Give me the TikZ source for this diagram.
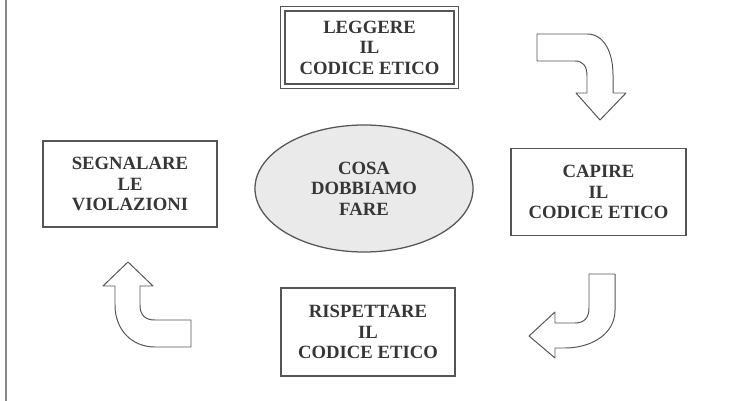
\documentclass[tikz,border=0pt]{standalone}
\usepackage{fontspec}
\setmainfont{Liberation Serif}
\usepackage{tikz}
\usetikzlibrary{shapes.geometric}
\tikzset{>=stealth}
\definecolor{inkgray}{HTML}{363636}
\definecolor{linegray}{HTML}{555555}
\definecolor{ovalfill}{HTML}{EAEAEA}
\tikzset{
  box/.style={draw=linegray, line width=0.9pt, text=inkgray, align=center,
    font=\fontsize{13.3}{14.6}\selectfont\bfseries, inner sep=0pt},
  oval/.style={ellipse, draw=linegray, line width=0.9pt, fill=ovalfill, text=inkgray,
    align=center, font=\fontsize{13.3}{14.6}\selectfont\bfseries, inner sep=0pt},
  turn/.style={draw=linegray, line width=0.7pt, fill=white, line join=round}
}

\begin{document}
\begin{tikzpicture}[x=0.025cm,y=-0.025cm]
\useasboundingbox (0,0) rectangle (756,401);
\draw [linegray!70, line width=0.8pt] (6,0)--(6,401);
% the four steps
\node [box, double=white, double distance=2pt, minimum width=4.33cm, minimum height=1.93cm] (leggere) at (369.5,47.5) {LEGGERE\\IL\\CODICE ETICO};
\node [box, minimum width=4.375cm, minimum height=2.175cm] (capire) at (598.5,192) {CAPIRE\\IL\\CODICE ETICO};
\node [box, minimum width=4.35cm, minimum height=2.2cm] (rispettare) at (368,332) {RISPETTARE\\IL\\CODICE ETICO};
\node [box, minimum width=4.35cm, minimum height=2.15cm] (segnalare) at (130,184) {SEGNALARE\\LE\\VIOLAZIONI};
% centre
\node [oval, minimum width=5.45cm, minimum height=3.175cm] (fare) at (364,188.5) {COSA\\DOBBIAMO\\FARE};
% bent arrows
\draw [turn] (537,34)--(587,34) .. controls (604,34) and (613,52) .. (613,75)--(613,93)--(626,93)--(600,120)--(576,93)--(587,93)--(587,76) .. controls (587,66) and (583,61) .. (575,61)--(537,61)--cycle;
\draw [turn] (589,274)--(615,274)--(615,310) .. controls (615,335) and (590,348) .. (565,348)--(555,348)--(555,358)--(529,336)--(555,312)--(555,323)--(575,323) .. controls (584,323) and (589,318) .. (589,308)--cycle;
\draw [turn] (191,320)--(191,347)--(155,347) .. controls (132,347) and (115,330) .. (115,305)--(115,286)--(103,286)--(128,262)--(153,286)--(140,286)--(140,305) .. controls (140,315) and (145,320) .. (155,320)--cycle;
\end{tikzpicture}
\end{document}
